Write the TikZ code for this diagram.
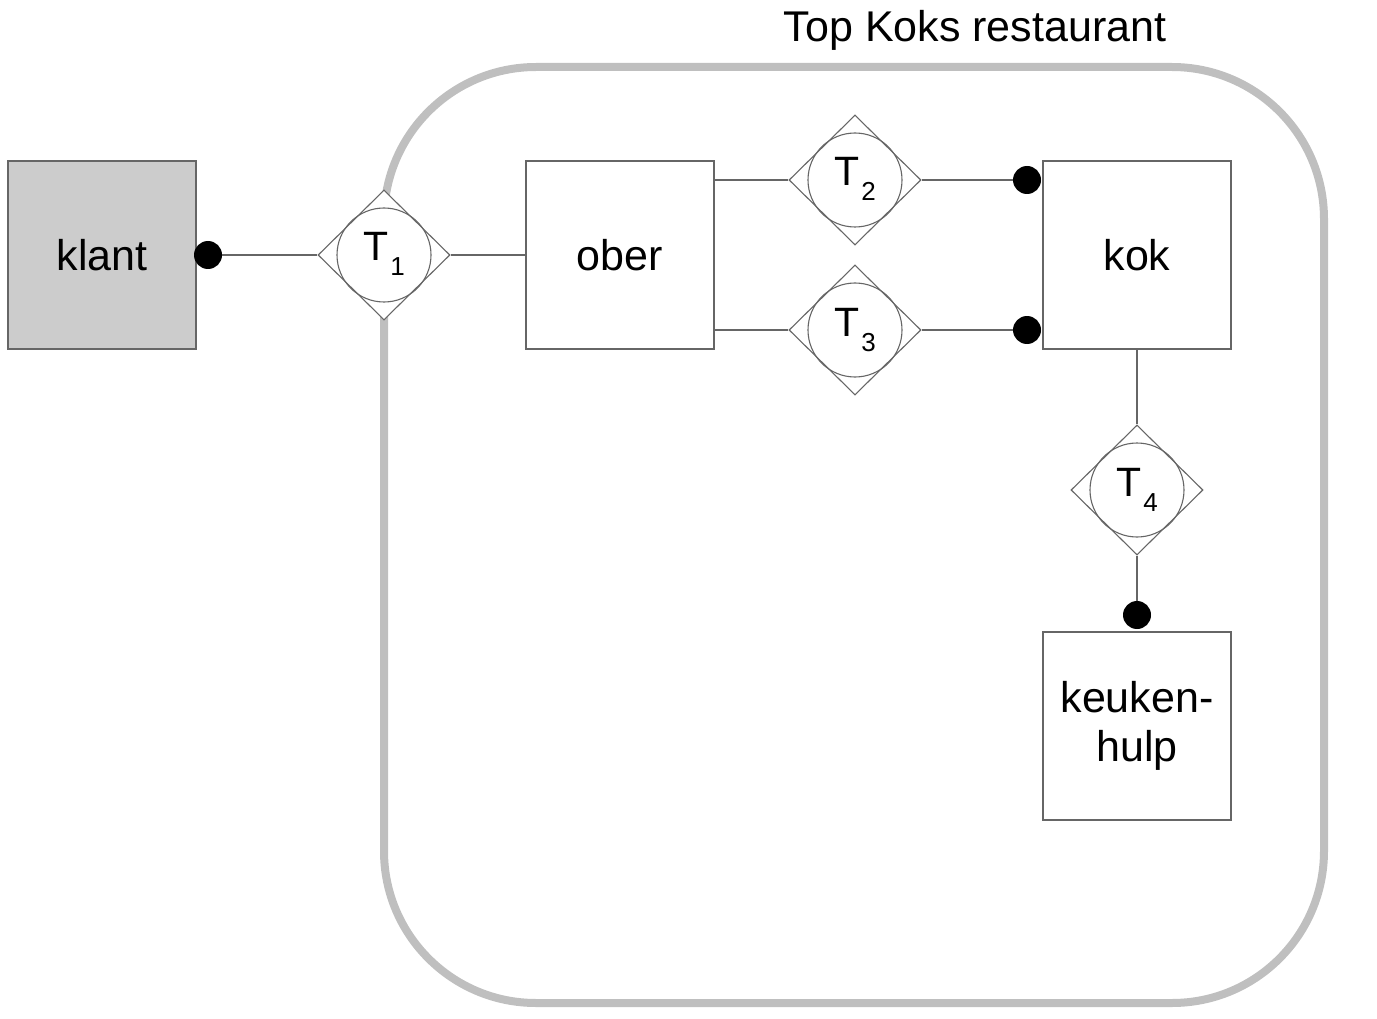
\documentclass[tikz,border=0pt]{standalone}
\usepackage{fontspec}
\setmainfont{Liberation Sans}
\usetikzlibrary{shapes.geometric}
\newcommand\tlab[1]{T\kern2pt\raisebox{-15pt}{\fontsize{26}{26}\selectfont #1}}
\tikzset{
  actor/.style={draw=black!60, line width=1.2pt, minimum width=188pt, minimum height=188pt, inner sep=0pt, fill=white, font=\fontsize{43}{49}\selectfont, align=center},
  tdiamond/.style={diamond, draw=black!60, line width=1.1pt, fill=white, minimum width=132pt, minimum height=130pt, inner sep=0pt},
  tcircle/.style={circle, draw=black!60, line width=1.1pt, minimum size=94pt, inner sep=0pt},
  tname/.style={font=\fontsize{41}{41}\selectfont, anchor=base, inner sep=0pt},
  dot/.style={circle, fill=black, minimum size=28pt, inner sep=0pt},
  conn/.style={draw=black!60, line width=1.1pt},
  org/.style={draw=black!25, line width=8pt, rounded corners=152pt}
}
\begin{document}
\begin{tikzpicture}[x=1pt,y=-1pt]
\useasboundingbox (0,0) rectangle (1377,1019);
% organisation boundary
\draw[org] (384,67) rectangle (1324,1003);
\node[font=\fontsize{43}{43}\selectfont, anchor=base] (title) at (975,42) {Top Koks restaurant};
% actors
\node[actor, fill=black!20] (klant) at (102,255) {klant};
\node[actor] (ober) at (620,255) {ober};
\node[actor] (kok) at (1137,255) {kok};
\node[actor] (hulp) at (1137,726) {keuken-\\hulp};
% transactions
\node[tdiamond] (d1) at (384,255) {};
\node[tcircle] (t1) at (384,255) {};
\node[tdiamond] (d2) at (855,180) {};
\node[tcircle] (t2) at (855,180) {};
\node[tdiamond] (d3) at (855,330) {};
\node[tcircle] (t3) at (855,330) {};
\node[tdiamond] (d4) at (1137,490) {};
\node[tcircle] (t4) at (1137,490) {};
\node[tname] (n1) at ([yshift=-6pt]t1.center) {\tlab{1}};
\node[tname] (n2) at ([yshift=-6pt]t2.center) {\tlab{2}};
\node[tname] (n3) at ([yshift=-6pt]t3.center) {\tlab{3}};
\node[tname] (n4) at ([yshift=-6pt]t4.center) {\tlab{4}};
% dots
\node[dot] (k1) at (208,255) {};
\node[dot] (c2) at (1027,180) {};
\node[dot] (c3) at (1027,330) {};
\node[dot] (h4) at (1137,615) {};
% connectors
\draw[conn] (k1) -- (d1.west);
\draw[conn] (d1.east) -- (ober.west);
\draw[conn] (ober.east |- d2) -- (d2.west);
\draw[conn] (d2.east) -- (c2);
\draw[conn] (ober.east |- d3) -- (d3.west);
\draw[conn] (d3.east) -- (c3);
\draw[conn] (kok.south) -- (d4.north);
\draw[conn] (d4.south) -- (h4);
\end{tikzpicture}
\end{document}
